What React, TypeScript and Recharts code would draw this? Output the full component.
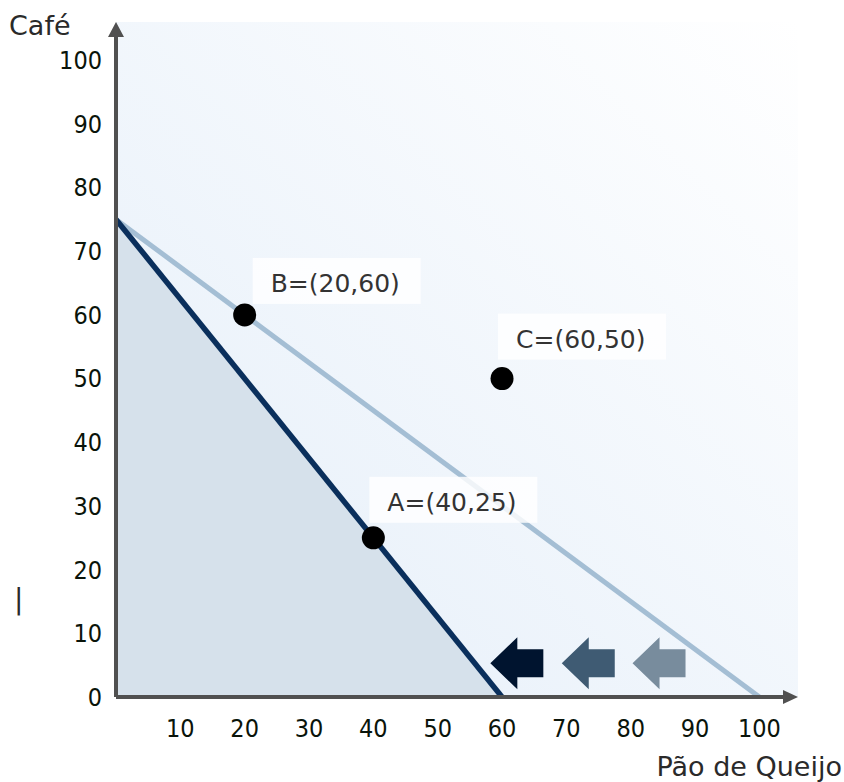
import { ComposedChart, Area, Line, Scatter, XAxis, YAxis, CartesianGrid, ReferenceLine, Customized } from 'recharts';

const budgetBefore = [
  { x: 0, y: 75 },
  { x: 100, y: 0 },
];

const budgetAfter = [
  { x: 0, y: 75 },
  { x: 60, y: 0 },
];

const points = [
  { name: 'A', x: 40, y: 25 },
  { name: 'B', x: 20, y: 60 },
  { name: 'C', x: 60, y: 50 },
];

const shiftArrows = [
  { x: 62.3, y: 5.3, color: '#00142f' },
  { x: 73.4, y: 5.3, color: '#3f5b73' },
  { x: 84.4, y: 5.3, color: '#788c9d' },
];

const xTicks = [10, 20, 30, 40, 50, 60, 70, 80, 90, 100];
const yTicks = [0, 10, 20, 30, 40, 50, 60, 70, 80, 90, 100];

const labelOffset: Record<string, { dx: number; dy: number }> = {
  A: { dx: 14, dy: -27 },
  B: { dx: 26, dy: -23 },
  C: { dx: 14, dy: -31 },
};

const tickStyle = { fontFamily: '"DejaVu Sans Condensed", "DejaVu Sans", sans-serif', fontSize: 25, fill: '#0a140a' };
const textFont = '"DejaVu Sans", Verdana, sans-serif';

const AxisArrow = (props: any) => {
  const { x1, y1, x2, y2 } = props;
  const vertical = Math.abs(x1 - x2) < 1;
  const head = vertical
    ? `M${x2 - 8},${y2 + 15} L${x2},${y2} L${x2 + 8},${y2 + 15} Z`
    : `M${x2 - 15},${y2 - 7} L${x2},${y2} L${x2 - 15},${y2 + 7} Z`;
  return (
    <g>
      <line
        x1={x1}
        y1={y1}
        x2={vertical ? x2 : x2 - 12}
        y2={vertical ? y2 + 12 : y2}
        stroke="#505050"
        strokeWidth={4}
      />
      <path d={head} fill="#505050" />
    </g>
  );
};

const BlockArrow = (props: any) => {
  const { cx, cy, payload } = props;
  const l = cx - 26.5;
  const m = cx + 0.5;
  const r = cx + 26.5;
  const d = `M${l},${cy} L${m},${cy - 26} L${m},${cy - 14} L${r},${cy - 14} L${r},${cy + 14} L${m},${cy + 14} L${m},${cy + 26} Z`;
  return <path d={d} fill={payload.color} />;
};

const PointMark = (props: any) => {
  const { cx, cy, payload } = props;
  const off = labelOffset[payload.name];
  const tx = cx + off.dx;
  const ty = cy + off.dy;
  return (
    <g>
      <rect x={tx - 18} y={ty - 34} width={168} height={46} fill="#ffffff" fillOpacity={0.82} />
      <text x={tx} y={ty} fontFamily={textFont} fontSize={25} fill="#333">
        {`${payload.name}=(${payload.x},${payload.y})`}
      </text>
      <circle cx={cx} cy={cy} r={11.5} fill="#000" />
    </g>
  );
};

const Titles = () => (
  <g fontFamily={textFont} fill="#2a2a2a">
    <text x={9} y={35} fontSize={27}>Café</text>
    <text x={842} y={776} fontSize={27} textAnchor="end">Pão de Queijo</text>
    <text x={14} y={609} fontSize={28}>|</text>
  </g>
);

export default function App() {
  return (
    <div style={{ position: 'absolute', left: 0, top: 0, width: 844, height: 782, background: '#fff' }}>
      <ComposedChart
        width={844}
        height={782}
        margin={{ top: 22, right: 46, bottom: 0, left: 0 }}
      >
        <defs>
          <linearGradient id="plotBg" x1="0" y1="1" x2="1" y2="0">
            <stop offset="0%" stopColor="#e4eef9" />
            <stop offset="100%" stopColor="#ffffff" />
          </linearGradient>
        </defs>
        <CartesianGrid horizontal={false} vertical={false} fill="url(#plotBg)" stroke="none" />
        <XAxis
          type="number"
          dataKey="x"
          domain={[0, 106]}
          ticks={xTicks}
          height={85}
          axisLine={false}
          tickLine={false}
          tickSize={0}
          tickMargin={22}
          tick={tickStyle}
          interval={0}
        />
        <YAxis
          type="number"
          dataKey="y"
          domain={[0, 106]}
          ticks={yTicks}
          width={116}
          axisLine={false}
          tickLine={false}
          tickSize={0}
          tickMargin={14}
          tick={tickStyle}
          interval={0}
        />
        <Area
          data={budgetAfter}
          dataKey="y"
          type="linear"
          fill="#d6e1eb"
          fillOpacity={1}
          stroke="none"
          isAnimationActive={false}
          activeDot={false}
        />
        <Line
          data={budgetBefore}
          dataKey="y"
          type="linear"
          stroke="#a4bed4"
          strokeWidth={5}
          dot={false}
          activeDot={false}
          isAnimationActive={false}
        />
        <Line
          data={budgetAfter}
          dataKey="y"
          type="linear"
          stroke="#0a2f5c"
          strokeWidth={5.5}
          dot={false}
          activeDot={false}
          isAnimationActive={false}
        />
        <ReferenceLine segment={[{ x: 0, y: 0 }, { x: 106, y: 0 }]} shape={AxisArrow} />
        <ReferenceLine segment={[{ x: 0, y: 0 }, { x: 0, y: 106 }]} shape={AxisArrow} />
        <Scatter data={shiftArrows} shape={BlockArrow} isAnimationActive={false} />
        <Scatter data={points} shape={PointMark} isAnimationActive={false} />
        <Customized component={Titles} />
      </ComposedChart>
    </div>
  );
}
